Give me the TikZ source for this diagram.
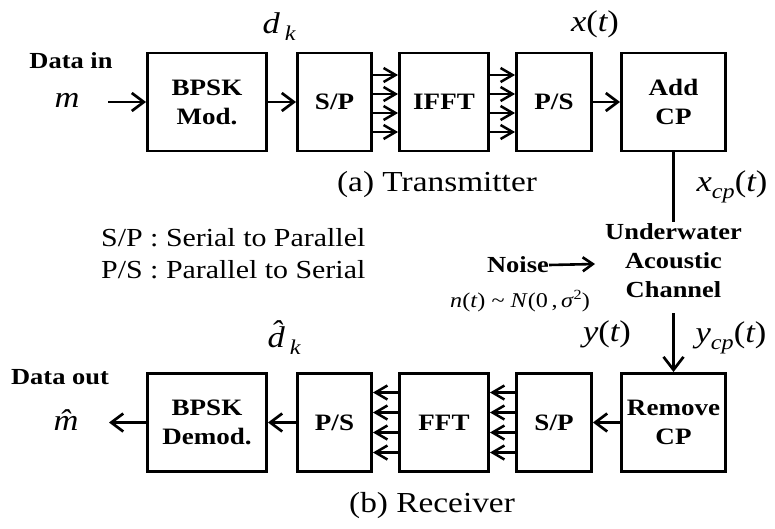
\documentclass[tikz,border=0pt]{standalone}
\usepackage{fontspec}
\setmainfont{Liberation Serif}[FakeStretch=1.15]
\usetikzlibrary{arrows.meta}
\newcommand\mysub[1]{\raisebox{-7pt}{\fontsize{21}{21}\selectfont\itshape #1}}
\tikzset{
 blk/.style={draw, line width=2.9pt, inner sep=0pt, align=center,
   font=\bfseries\fontsize{23.5}{29}\selectfont, minimum height=98pt},
 conn/.style={line width=2.9pt, -{Straight Barb[length=12pt,width=18pt,line width=2.7pt]}},
 parr/.style={line width=2.6pt, -{Straight Barb[length=12pt,width=14pt,line width=2.5pt]}},
 lbl/.style={inner sep=0pt, align=center, font=\bfseries\fontsize{23}{29}\selectfont},
 mth/.style={inner sep=0pt, font=\itshape\fontsize{30}{32}\selectfont},
 captxt/.style={inner sep=0pt, font=\fontsize{29}{32}\selectfont},
 leg/.style={inner sep=0pt, anchor=west, font=\fontsize{26}{30}\selectfont},
}
\begin{document}
\begin{tikzpicture}[x=1pt,y=-1pt]
\useasboundingbox (0,0) rectangle (775,528);
% transmitter row
\node[blk, minimum width=119pt] (mod) at (207,102) {BPSK\\Mod.};
\node[blk, minimum width=74pt] (sp1) at (334.5,102) {S/P};
\node[blk, minimum width=89pt] (ifft) at (444,102) {IFFT};
\node[blk, minimum width=75pt] (ps1) at (554,102) {P/S};
\node[blk, minimum width=104pt] (add) at (673.5,102) {Add\\CP};
% receiver row
\node[blk, minimum width=119pt] (demod) at (207,422.5) {BPSK\\Demod.};
\node[blk, minimum width=74pt] (ps2) at (334.5,422.5) {P/S};
\node[blk, minimum width=89pt] (fft) at (444,422.5) {FFT};
\node[blk, minimum width=75pt] (sp2) at (554,422.5) {S/P};
\node[blk, minimum width=104pt] (rem) at (673.5,422.5) {Remove\\CP};
% labels
\node[lbl] (datain) at (71,61) {Data in};
\node[mth] (m) at (67,100) {m};
\coordinate (inst) at (108,102);
\node[lbl] (dataout) at (60,377) {Data out};
\node[mth] (mh) at (66,420) {\^{m}};
\coordinate (outend) at (109,422.5);
\node[mth] (dk) at (279,27) {d\,\mysub{k}};
\node[mth] (dkh) at (284,338) {\^{d}\,\mysub{k}};
\node[mth] (xt) at (595,24) {x\upshape(\itshape t\upshape)};
\node[mth] (xcp) at (732,187) {x\mysub{cp}\upshape(\itshape t\upshape)};
\node[mth] (yt) at (607,334) {y\upshape(\itshape t\upshape)};
\node[mth] (ycp) at (731,338) {y\mysub{cp}\upshape(\itshape t\upshape)};
\node[captxt] (capa) at (437,185) {(a) Transmitter};
\node[captxt] (capb) at (432,506) {(b) Receiver};
\node[leg] (leg1) at (101,238) {S/P : Serial to Parallel};
\node[leg] (leg2) at (101,270) {P/S : Parallel to Serial};
% channel
\coordinate (chtop) at (673.5,222);
\node[lbl] (chan) at (673.5,261) {Underwater\\Acoustic\\Channel};
\coordinate (chbot) at (673.5,313);
\node[lbl, anchor=east] (noise) at (549,265) {Noise};
\coordinate (noisetip) at (595,264);
\node[inner sep=0pt, font=\fontsize{21}{23}\selectfont] (nt) at (520,301)
  {\textit{n}(\textit{t}) \textasciitilde{} \textit{N}(0\,,\,\textit{σ}\raisebox{8pt}{\fontsize{14}{14}\selectfont 2})};
% connectors
\draw[conn] (inst) -- (mod.west);
\draw[conn] (mod.east) -- (sp1.west);
\foreach \d in {-30,-11,8,27}{
  \draw[parr] ([yshift=\d pt]sp1.east) -- ([yshift=\d pt]ifft.west);
  \draw[parr] ([yshift=\d pt]ifft.east) -- ([yshift=\d pt]ps1.west);
}
\draw[conn] (ps1.east) -- (add.west);
\draw[line width=2.9pt] (add.south) -- (chtop);
\draw[line width=2.6pt, -{Straight Barb[length=10pt,width=14pt,line width=2.6pt]}] (noise.east) -- (noisetip);
\draw[line width=2.9pt, -{Straight Barb[length=13pt,width=20pt,line width=2.7pt]}] (chbot) -- (rem.north);
\draw[conn] (rem.west) -- (sp2.east);
\foreach \d in {-30,-10,10,30}{
  \draw[parr] ([yshift=\d pt]sp2.west) -- ([yshift=\d pt]fft.east);
  \draw[parr] ([yshift=\d pt]fft.west) -- ([yshift=\d pt]ps2.east);
}
\draw[conn] (ps2.west) -- (demod.east);
\draw[conn] (demod.west) -- (outend);
\end{tikzpicture}
\end{document}
